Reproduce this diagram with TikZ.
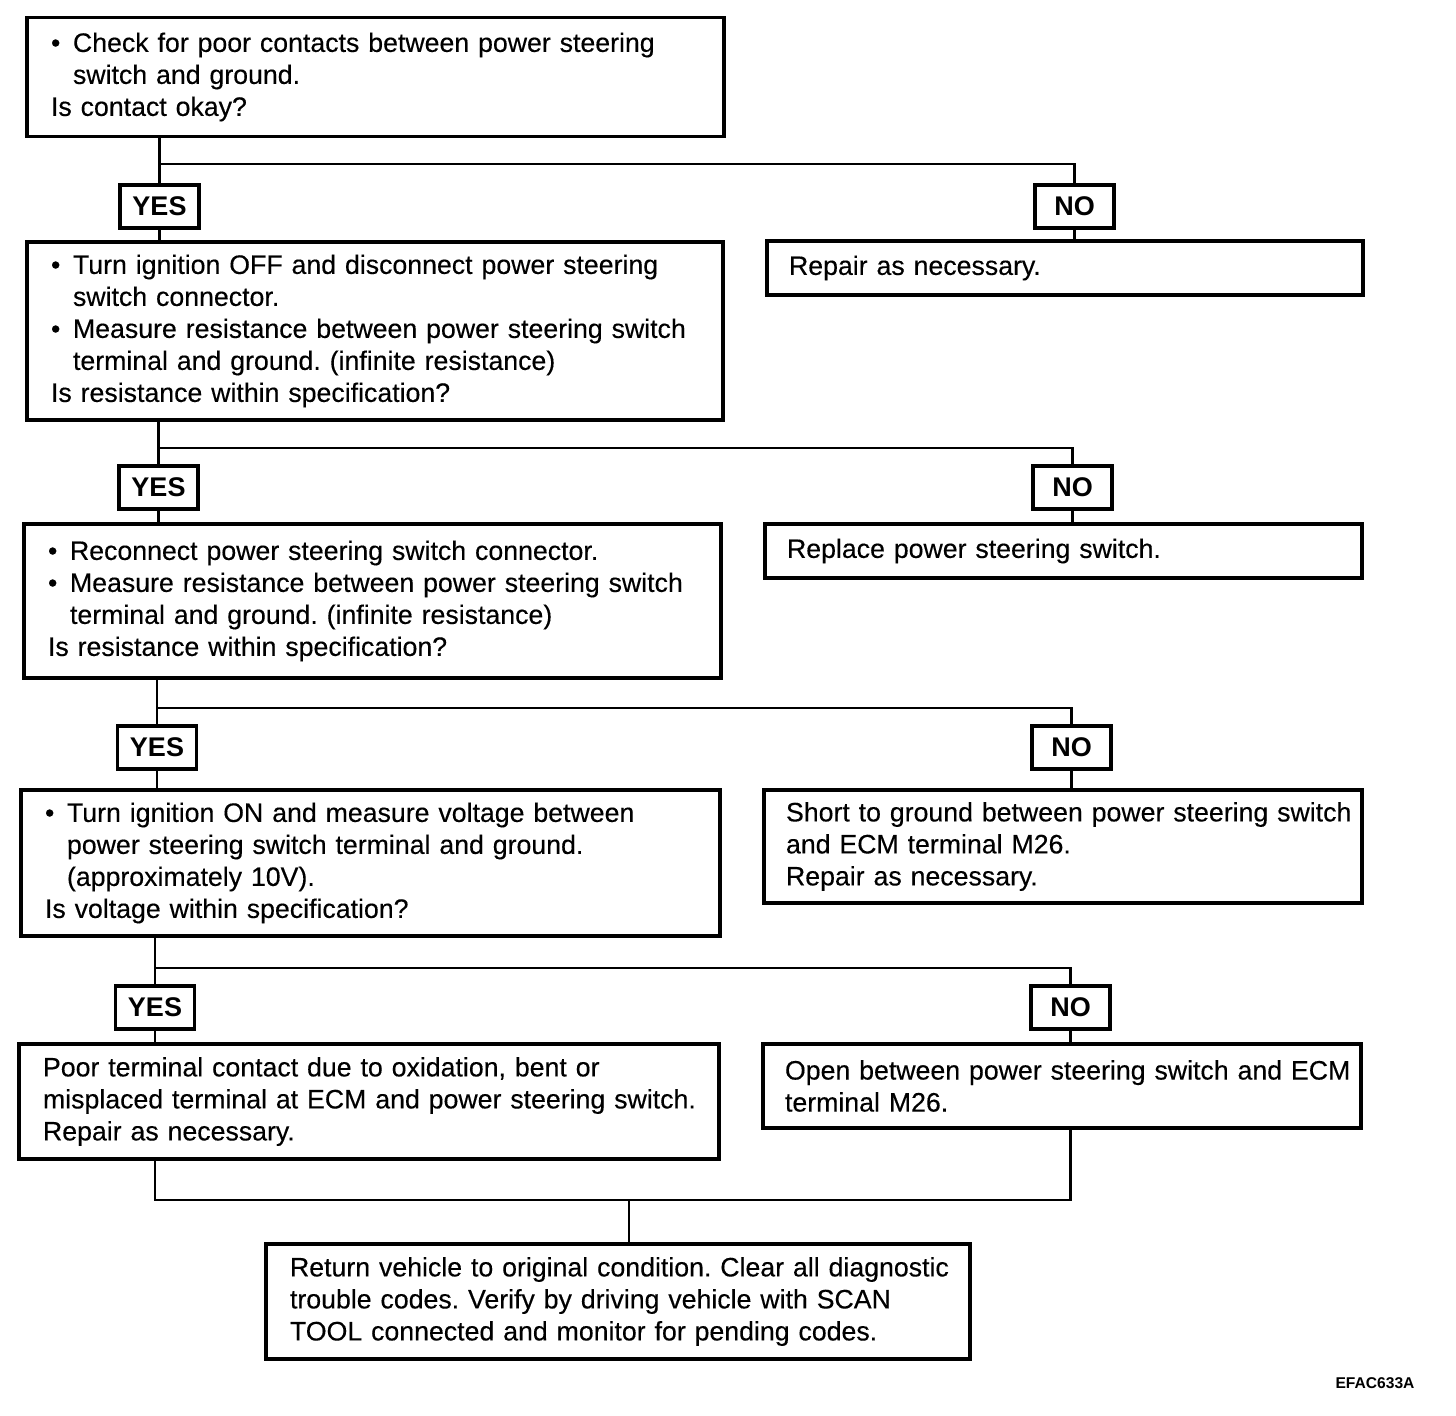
\documentclass[tikz,border=0pt]{standalone}
\usepackage{fontspec}
\setmainfont{Liberation Sans}[UprightFeatures={FakeBold=0.3}]
\frenchspacing
\tikzset{
  box/.style={draw, line width=1.6pt, align=left, inner xsep=12pt, inner ysep=0pt,
    font=\fontsize{13.35}{16}\selectfont},
  rbox/.style={box, inner xsep=11pt},
  tag/.style={draw, line width=1.6pt, minimum width=39.5pt, minimum height=21.5pt,
    inner sep=0pt, font=\fontsize{13.5}{16}\selectfont\bfseries},
  conn/.style={line width=1.3pt},
}
\newcommand\bul{\makebox[11pt][l]{\textbullet}}
\newcommand\ind{\hspace*{11pt}}
\begin{document}
\begin{tikzpicture}[x=0.5pt,y=-0.5pt]
\useasboundingbox (0,0) rectangle (1456,1416);

% main column
\node[box, text width=324.5pt, minimum height=59.5pt] (b1) at (375.5,77)
 {\mbox{\bul Check for poor contacts between power steering}\\
  \mbox{\ind switch and ground.}\\
  \mbox{Is contact okay?}};
\node[box, text width=324pt, minimum height=89pt] (b2) at (375,331)
 {\mbox{\bul Turn ignition OFF and disconnect power steering}\\
  \mbox{\ind switch connector.}\\
  \mbox{\bul Measure resistance between power steering switch}\\
  \mbox{\ind terminal and ground. (infinite resistance)}\\
  \mbox{Is resistance within specification?}};
\node[box, text width=324.5pt, minimum height=77pt] (b3) at (372.5,601)
 {\mbox{\bul Reconnect power steering switch connector.}\\
  \mbox{\bul Measure resistance between power steering switch}\\
  \mbox{\ind terminal and ground. (infinite resistance)}\\
  \mbox{Is resistance within specification?}};
\node[box, text width=325.5pt, minimum height=73pt] (b4) at (370.5,863)
 {\mbox{\bul Turn ignition ON and measure voltage between}\\
  \mbox{\ind power steering switch terminal and ground.}\\
  \mbox{\ind (approximately 10V).}\\
  \mbox{Is voltage within specification?}};
\node[box, text width=326pt, minimum height=57.5pt] (b5) at (369,1101.5)
 {\mbox{Poor terminal contact due to oxidation, bent or}\\
  \mbox{misplaced terminal at ECM and power steering switch.}\\
  \mbox{Repair as necessary.}};

% right column
\node[rbox, text width=276pt, minimum height=27pt] (r1) at (1065,268)
 {\mbox{Repair as necessary.}};
\node[rbox, text width=276.5pt, minimum height=27pt] (r3) at (1063.5,551)
 {\mbox{Replace power steering switch.}};
\node[rbox, text width=277pt, minimum height=56.5pt] (r4) at (1063,846.5)
 {\mbox{Short to ground between power steering switch}\\
  \mbox{and ECM terminal M26.}\\
  \mbox{Repair as necessary.}};
\node[rbox, text width=277pt, minimum height=42pt] (r5) at (1062,1086)
 {\mbox{Open between power steering switch and ECM}\\
  \mbox{terminal M26.}};

% final
\node[box, text width=328pt, minimum height=57.5pt] (fin) at (618,1301.5)
 {\mbox{Return vehicle to original condition. Clear all diagnostic}\\
  \mbox{trouble codes. Verify by driving vehicle with SCAN}\\
  \mbox{TOOL connected and monitor for pending codes.}};

% tags
\node[tag] (yes1) at (159.5,206.5) {YES};
\node[tag] (no1)  at (1074.5,206.5) {NO};
\node[tag] (yes2) at (158.5,487.5) {YES};
\node[tag] (no2)  at (1072.5,487.5) {NO};
\node[tag] (yes3) at (157,747.5) {YES};
\node[tag] (no3)  at (1071.5,747.5) {NO};
\node[tag] (yes4) at (155,1007.5) {YES};
\node[tag] (no4)  at (1070.5,1007.5) {NO};

% junctions
\coordinate (j1) at (159.5,164);
\coordinate (j2) at (158.5,448);
\coordinate (j3) at (157,708);
\coordinate (j4) at (155,968);
\coordinate (m)  at (629,1200);

% connectors
\draw[conn] (b1.south -| yes1.north) -- (yes1.north);
\draw[conn] (yes1.south) -- (yes1.south |- b2.north);
\draw[conn] (j1) -| (no1.north);
\draw[conn] (no1.south) -- (no1.south |- r1.north);

\draw[conn] (b2.south -| yes2.north) -- (yes2.north);
\draw[conn] (yes2.south) -- (yes2.south |- b3.north);
\draw[conn] (j2) -| (no2.north);
\draw[conn] (no2.south) -- (no2.south |- r3.north);

\draw[conn] (b3.south -| yes3.north) -- (yes3.north);
\draw[conn] (yes3.south) -- (yes3.south |- b4.north);
\draw[conn] (j3) -| (no3.north);
\draw[conn] (no3.south) -- (no3.south |- r4.north);

\draw[conn] (b4.south -| yes4.north) -- (yes4.north);
\draw[conn] (yes4.south) -- (yes4.south |- b5.north);
\draw[conn] (j4) -| (no4.north);
\draw[conn] (no4.south) -- (no4.south |- r5.north);

\draw[conn] (b5.south -| yes4.south) |- (m -| no4.south) -- (no4.south |- r5.south);
\draw[conn] (m) -- (m |- fin.north);

\node[font=\fontsize{7.8}{9}\selectfont\bfseries] (code) at (1375,1383) {EFAC633A};
\end{tikzpicture}
\end{document}
